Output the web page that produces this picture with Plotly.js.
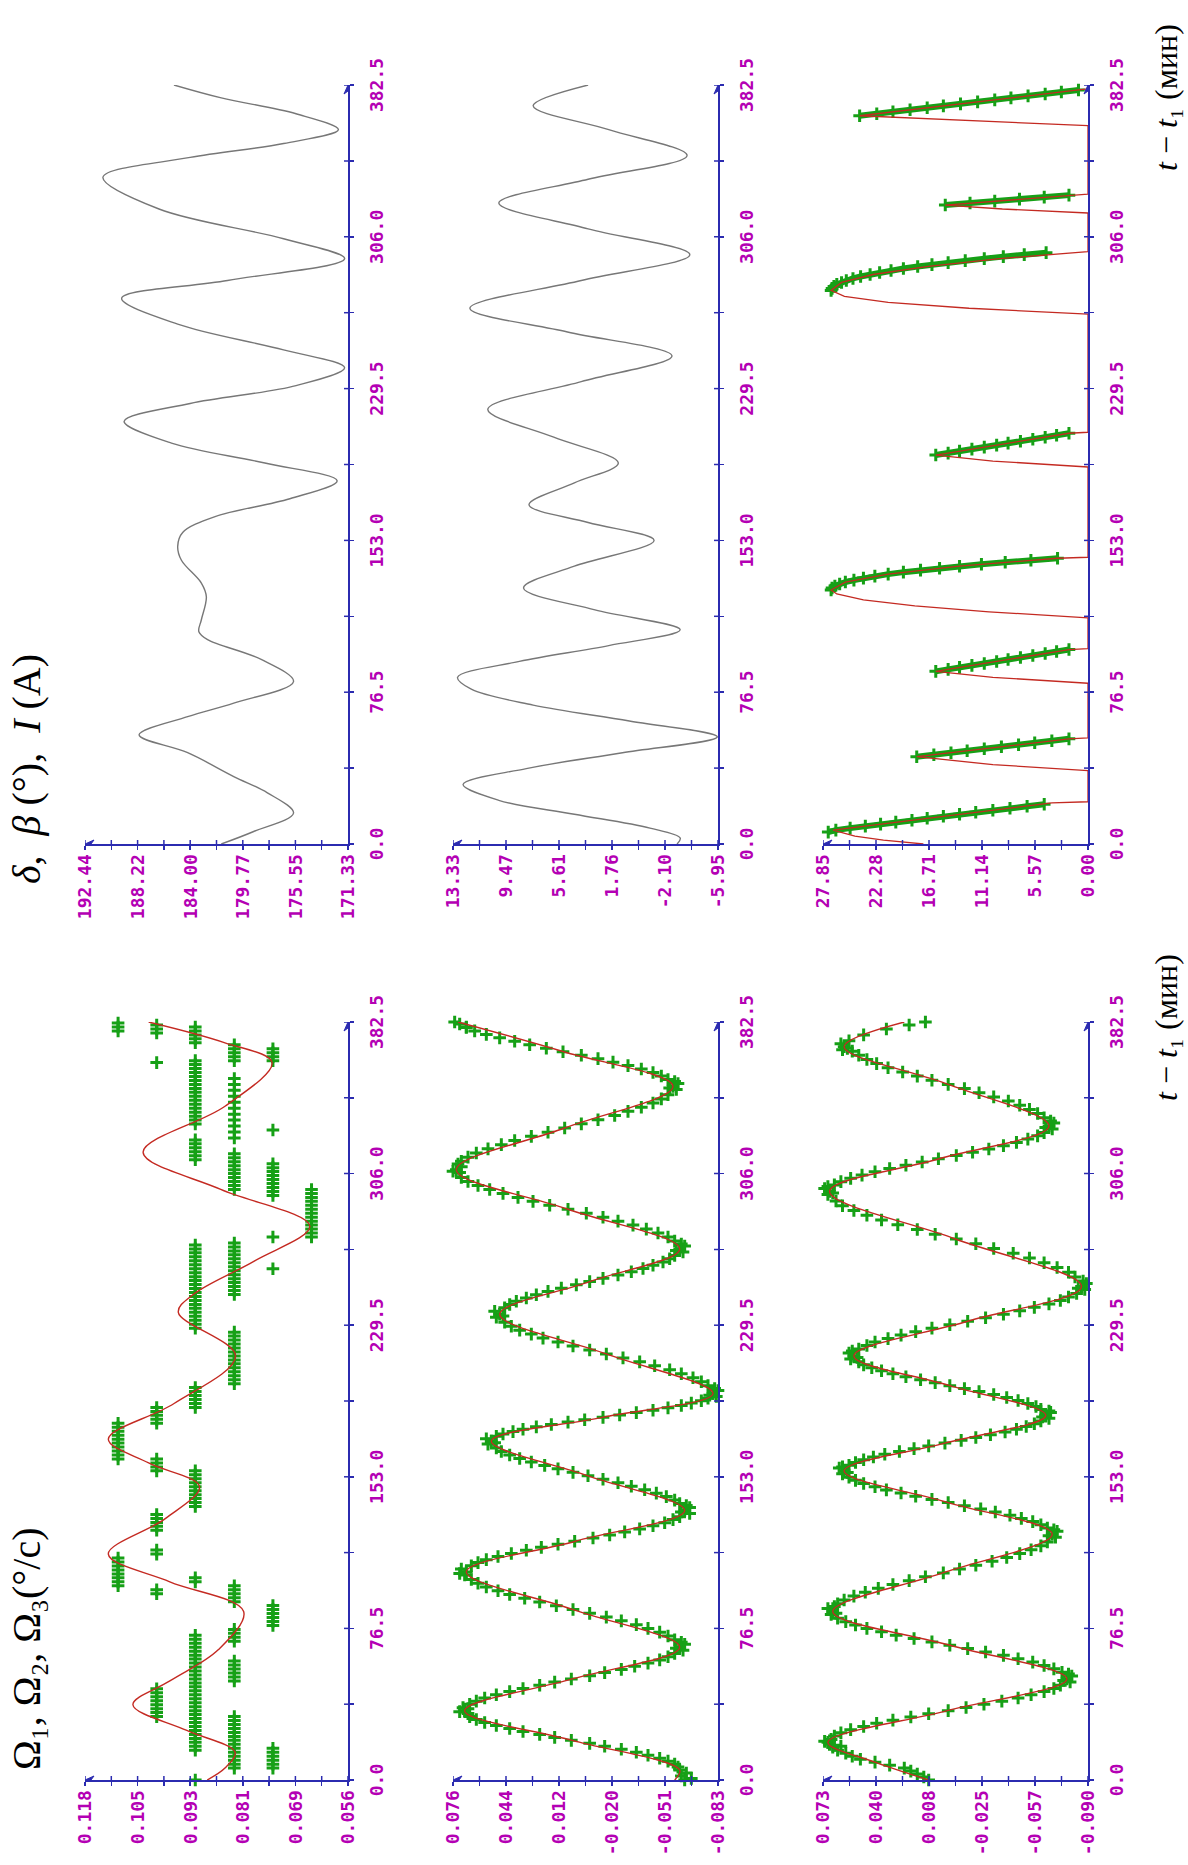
<!DOCTYPE html>
<html><head><meta charset="utf-8">
<script src="https://cdn.plot.ly/plotly-3.0.1.min.js"></script>
<style>
html,body{margin:0;padding:0;width:1188px;height:1865px;overflow:hidden;background:#fff;}
#wrap{position:absolute;left:0;top:1865px;width:1865px;height:1188px;transform-origin:0 0;transform:rotate(-90deg);}
#chart{width:1865px;height:1188px;}
</style></head><body><div id="wrap"><div id="chart"></div></div>
<script>
// ---------------- DATA ----------------
const timeTickLabels = ["0.0","76.5","153.0","229.5","306.0","382.5"];
const omega1TickLabels = ["0.118","0.105","0.093","0.081","0.069","0.056"];
const omega2TickLabels = ["0.076","0.044","0.012","-0.020","-0.051","-0.083"];
const omega3TickLabels = ["0.073","0.040","0.008","-0.025","-0.057","-0.090"];
const deltaTickLabels = ["192.44","188.22","184.00","179.77","175.55","171.33"];
const betaTickLabels = ["13.33","9.47","5.61","1.76","-2.10","-5.95"];
const currentTickLabels = ["27.85","22.28","16.71","11.14","5.57","0.00"];

// Omega1 fitted curve (red)
const omega1FitT = [0, 6, 14, 25, 38, 50, 65.7, 85, 100, 114, 132, 148, 160, 172, 190, 214, 236, 245, 262, 279.5, 298, 316.8, 340, 362, 372, 382.5];
const omega1FitV = [0.0892, 0.0850, 0.0826, 0.094, 0.1067, 0.098, 0.0866, 0.0806, 0.098, 0.1125, 0.099, 0.091, 0.103, 0.1125, 0.097, 0.0825, 0.096, 0.0925, 0.078, 0.065, 0.086, 0.1043, 0.085, 0.0739, 0.085, 0.103];
// Omega1 measured (green): quantised levels and the times at which each level was measured
const omega1Levels = [0.0555, 0.0646, 0.0737, 0.0828, 0.0920, 0.1011, 0.1102];
const omega1LevelTimes = [
  [278, 280, 282, 284, 286, 288, 290],
  [274, 276, 278, 280, 282, 284, 286, 288, 290, 292, 294, 296, 298],
  [6, 8, 10, 12, 14, 16, 78, 80, 82, 84, 86, 88, 258, 274, 295, 297, 299, 301, 303, 305, 307, 309, 311, 328, 363, 365, 367, 369],
  [6, 8, 10, 12, 14, 16, 18, 20, 22, 24, 26, 28, 30, 32, 50, 52, 54, 56, 58, 60, 70, 72, 74, 76, 90, 92, 94, 96, 98, 200, 202, 204, 206, 208, 210, 212, 214, 216, 218, 220, 222, 224, 226, 245, 247, 249, 251, 253, 255, 257, 259, 261, 263, 265, 267, 269, 271, 298, 300, 302, 304, 306, 308, 310, 312, 314, 316, 324, 327, 330, 333, 336, 339, 342, 345, 348, 351, 354, 363, 365, 367, 369, 371],
  [0, 15, 17, 19, 21, 23, 25, 27, 29, 31, 33, 35, 37, 39, 41, 43, 45, 47, 49, 51, 53, 55, 57, 59, 61, 63, 65, 67, 69, 71, 73, 100, 102, 138, 140, 142, 144, 146, 148, 150, 152, 154, 156, 188, 190, 192, 194, 196, 198, 228, 230, 232, 234, 236, 238, 240, 242, 244, 246, 248, 250, 252, 254, 256, 258, 260, 262, 264, 266, 268, 270, 313, 315, 317, 319, 321, 323, 331, 333, 335, 337, 339, 341, 343, 345, 347, 349, 351, 353, 355, 357, 359, 361, 363, 372, 374, 376, 378, 380],
  [32, 34, 36, 38, 40, 42, 44, 46, 94, 96, 114, 116, 126, 128, 130, 132, 134, 156, 158, 160, 162, 180, 182, 184, 186, 188, 362, 377, 379, 381, 383],
  [98, 100, 102, 104, 106, 108, 110, 112, 162, 164, 166, 168, 170, 172, 174, 176, 178, 180, 378, 380, 382, 384]
];

// Omega2
const omega2FitT = [0, 5, 20, 35, 51, 67, 86, 105, 120.5, 136, 153.5, 171, 183, 195, 215, 235, 251.5, 268, 288, 308, 329, 350, 367.5, 382.5];
const omega2FitV = [-0.057, -0.060, 0.0045, 0.069, 0.0045, -0.060, 0.004, 0.068, 0.0025, -0.063, -0.005, 0.053, -0.0135, -0.080, -0.016, 0.048, -0.006, -0.060, 0.007, 0.074, 0.009, -0.056, 0.0095, 0.073];
const omega2ObsT = [0, 0.8, 2, 3.5, 5, 8, 11, 14, 17, 20, 23, 26, 29, 32, 35, 36.5, 38.2, 41.4, 44.6, 47.8, 51, 54.2, 57.4, 60.6, 63.8, 67, 68.5, 70.8, 74.6, 78.4, 82.2, 86, 89.8, 93.6, 97.4, 101.2, 105, 106.5, 108.1, 111.2, 114.3, 117.4, 120.5, 123.6, 126.7, 129.8, 132.9, 136, 137.5, 139.5, 143, 146.5, 150, 153.5, 157, 160.5, 164, 167.5, 171, 172.2, 173.4, 175.8, 178.2, 180.6, 183, 185.4, 187.8, 190.2, 192.6, 195, 196.5, 199, 203, 207, 211, 215, 219, 223, 227, 231, 235, 236.5, 238.3, 241.6, 244.9, 248.2, 251.5, 254.8, 258.1, 261.4, 264.7, 268, 269.5, 272, 276, 280, 284, 288, 292, 296, 300, 304, 308, 309.5, 312.2, 316.4, 320.6, 324.8, 329, 333.2, 337.4, 341.6, 345.8, 350, 351.5, 353.5, 357, 360.5, 364, 367.5, 371, 374.5, 378, 381.5,
  33.5, 34.5, 36, 65.5, 66.5, 69.5, 103.5, 104.2, 134.5, 135.2, 138.5, 169.5, 170.2, 193.5, 194.2, 197.5, 233.5, 234.2, 266.5, 267.2, 270.5, 306.5, 307.2, 310.8, 348.5, 349.2, 352.5, 380, 382.5,
  6.5, 9.5, 12.5, 15.5, 18.5, 21.5, 24.5, 27.5, 30.5, 39.8, 43, 46.2, 49.4, 52.6, 55.8, 59, 62.2, 72.7, 76.5, 80.3, 84.1, 87.9, 91.7, 95.5, 99.3, 109.7, 112.8, 115.9, 119, 122.1, 125.2, 128.3, 131.4, 141.25, 144.75, 148.25, 151.75, 155.25, 158.75, 162.25, 165.75, 174.6, 177, 179.4, 181.8, 184.2, 186.6, 189, 191.4, 201, 205, 209, 213, 217, 221, 225, 229, 239.95, 243.25, 246.55, 249.85, 253.15, 256.45, 259.75, 263.05, 274, 278, 282, 286, 290, 294, 298, 302, 314.3, 318.5, 322.7, 326.9, 331.1, 335.3, 339.5, 343.7, 355.25, 358.75, 362.25, 365.75, 369.25, 372.75, 376.25, 379.75];
const omega2ObsV = [-0.063, -0.067, -0.061, -0.064, -0.060, -0.057, -0.048, -0.034, -0.015, 0.005, 0.024, 0.042, 0.057, 0.066, 0.069, 0.070, 0.066, 0.057, 0.042, 0.024, 0.005, -0.015, -0.033, -0.048, -0.057, -0.060, -0.063, -0.057, -0.048, -0.034, -0.016, 0.004, 0.024, 0.042, 0.056, 0.065, 0.068, 0.071, 0.065, 0.056, 0.041, 0.023, 0.003, -0.018, -0.036, -0.051, -0.060, -0.063, -0.066, -0.060, -0.052, -0.039, -0.023, -0.005, 0.013, 0.029, 0.042, 0.050, 0.053, 0.056, 0.050, 0.040, 0.026, 0.007, -0.014, -0.034, -0.053, -0.067, -0.077, -0.080, -0.083, -0.077, -0.068, -0.054, -0.036, -0.016, 0.004, 0.022, 0.036, 0.045, 0.048, 0.051, 0.045, 0.038, 0.026, 0.011, -0.006, -0.023, -0.038, -0.050, -0.057, -0.060, -0.063, -0.057, -0.047, -0.032, -0.014, 0.007, 0.028, 0.046, 0.061, 0.071, 0.074, 0.071, 0.071, 0.062, 0.047, 0.029, 0.009, -0.011, -0.029, -0.044, -0.053, -0.056, -0.059, -0.053, -0.044, -0.029, -0.011, 0.010, 0.030, 0.048, 0.063, 0.072,
  0.067, 0.072, 0.067, -0.062, -0.058, -0.061, 0.069, 0.072, -0.066, -0.061, -0.064, 0.055, 0.051, -0.082, -0.078, -0.081, 0.050, 0.046, -0.062, -0.058, -0.061, 0.072, 0.076, 0.073, -0.058, -0.054, -0.057, 0.068, 0.075,
  -0.059, -0.053, -0.041, -0.025, -0.006, 0.015, 0.034, 0.050, 0.062, 0.062, 0.050, 0.034, 0.015, -0.006, -0.025, -0.041, -0.053, -0.053, -0.041, -0.025, -0.006, 0.014, 0.033, 0.049, 0.061, 0.061, 0.049, 0.032, 0.013, -0.008, -0.027, -0.044, -0.056, -0.057, -0.046, -0.031, -0.014, 0.004, 0.021, 0.036, 0.047, 0.046, 0.034, 0.017, -0.003, -0.024, -0.044, -0.061, -0.073, -0.073, -0.061, -0.045, -0.026, -0.006, 0.013, 0.029, 0.041, 0.042, 0.032, 0.019, 0.002, -0.014, -0.031, -0.044, -0.054, -0.053, -0.040, -0.023, -0.004, 0.018, 0.037, 0.054, 0.067, 0.067, 0.055, 0.039, 0.019, -0.001, -0.021, -0.037, -0.049, -0.049, -0.037, -0.020, -0.001, 0.020, 0.039, 0.056, 0.068];

// Omega3
const omega3FitT = [0, 9, 19, 35, 51, 68, 85, 104.5, 124, 140, 156, 170, 184, 199, 214, 231.5, 249, 273, 297, 313.5, 330, 351, 370, 382.5];
const omega3FitV = [0.008, 0.041, 0.070, -0.0035, -0.077, -0.005, 0.067, -0.0005, -0.068, -0.004, 0.060, -0.002, -0.064, -0.005, 0.054, -0.016, -0.086, -0.0085, 0.069, 0.0015, -0.066, -0.004, 0.060, 0.023];
const omega3ObsT = [0, 1.5, 3, 4.5, 6, 7.5, 9, 10.5, 12, 13.5, 15, 16.5, 17, 18, 19, 19.5, 22.2, 25.4, 28.6, 31.8, 35, 38.2, 41.4, 44.6, 47.8, 51, 52.5, 54.4, 57.8, 61.2, 64.6, 68, 71.4, 74.8, 78.2, 81.6, 85, 86.5, 88.9, 92.8, 96.7, 100.6, 104.5, 108.4, 112.3, 116.2, 120.1, 124, 125.5, 127.2, 130.4, 133.6, 136.8, 140, 143.2, 146.4, 149.6, 152.8, 156, 157.4, 158.8, 161.6, 164.4, 167.2, 170, 172.8, 175.6, 178.4, 181.2, 184, 185.5, 187, 190, 193, 196, 199, 202, 205, 208, 211, 214, 215.5, 217.5, 221, 224.5, 228, 231.5, 235, 238.5, 242, 245.5, 249, 250.5, 253.8, 258.6, 263.4, 268.2, 273, 277.8, 282.6, 287.4, 292.2, 297, 298.5, 300.3, 303.6, 306.9, 310.2, 313.5, 316.8, 320.1, 323.4, 326.7, 330, 331.5, 334.2, 338.4, 342.6, 346.8, 351, 355.2, 359.4, 363.6, 367.8, 370, 371.5, 373, 376, 379, 381, 382.5,
  20.5, 17.5, 49.5, 50.2, 53.5, 83.5, 84.2, 87.5, 122.5, 123.2, 126.3, 154.5, 155.2, 158, 182.5, 183.2, 186.2, 212.5, 213.2, 216.5, 247.5, 248.2, 251.8, 295.5, 296.2, 299.5, 328.5, 329.2, 332.5, 368.5, 369.2,
  23.8, 27, 30.2, 33.4, 36.6, 39.8, 43, 46.2, 56.1, 59.5, 62.9, 66.3, 69.7, 73.1, 76.5, 79.9, 90.85, 94.75, 98.65, 102.55, 106.45, 110.35, 114.25, 118.15, 128.8, 132, 135.2, 138.4, 141.6, 144.8, 148, 151.2, 160.2, 163, 165.8, 168.6, 171.4, 174.2, 177, 179.8, 188.5, 191.5, 194.5, 197.5, 200.5, 203.5, 206.5, 209.5, 219.25, 222.75, 226.25, 229.75, 233.25, 236.75, 240.25, 243.75, 256.2, 261, 265.8, 270.6, 275.4, 280.2, 285, 289.8, 301.95, 305.25, 308.55, 311.85, 315.15, 318.45, 321.75, 325.05, 336.3, 340.5, 344.7, 348.9, 353.1, 357.3, 361.5, 365.7];
const omega3ObsV = [0.008, 0.011, 0.015, 0.019, 0.023, 0.032, 0.041, 0.050, 0.055, 0.059, 0.064, 0.067, 0.062, 0.069, 0.070, 0.072, 0.066, 0.056, 0.040, 0.019, -0.004, -0.026, -0.047, -0.063, -0.073, -0.077, -0.080, -0.074, -0.063, -0.047, -0.027, -0.005, 0.017, 0.037, 0.053, 0.064, 0.067, 0.070, 0.064, 0.054, 0.039, 0.020, -0.001, -0.021, -0.040, -0.055, -0.065, -0.068, -0.071, -0.065, -0.056, -0.042, -0.024, -0.004, 0.016, 0.034, 0.048, 0.057, 0.060, 0.063, 0.057, 0.048, 0.035, 0.017, -0.002, -0.021, -0.039, -0.052, -0.061, -0.064, -0.067, -0.061, -0.053, -0.040, -0.023, -0.005, 0.013, 0.030, 0.043, 0.051, 0.054, 0.057, 0.051, 0.041, 0.025, 0.006, -0.016, -0.038, -0.057, -0.073, -0.083, -0.086, -0.089, -0.082, -0.071, -0.054, -0.032, -0.009, 0.015, 0.037, 0.054, 0.065, 0.069, 0.072, 0.066, 0.056, 0.041, 0.022, 0.002, -0.019, -0.038, -0.053, -0.063, -0.066, -0.069, -0.063, -0.054, -0.041, -0.023, -0.004, 0.015, 0.033, 0.046, 0.055, 0.060, 0.062, 0.057, 0.048, 0.034, 0.020, 0.010,
  0.068, 0.066, -0.079, -0.075, -0.078, 0.068, 0.065, 0.066, -0.070, -0.066, -0.069, 0.061, 0.058, 0.061, -0.066, -0.062, -0.066, 0.056, 0.052, 0.055, -0.088, -0.084, -0.087, 0.070, 0.067, 0.070, -0.068, -0.064, -0.067, 0.061, 0.058,
  0.062, 0.048, 0.030, 0.008, -0.015, -0.037, -0.055, -0.069, -0.069, -0.056, -0.038, -0.016, 0.006, 0.028, 0.046, 0.059, 0.060, 0.047, 0.030, 0.010, -0.011, -0.031, -0.048, -0.061, -0.061, -0.049, -0.033, -0.014, 0.006, 0.025, 0.041, 0.053, 0.053, 0.042, 0.026, 0.008, -0.012, -0.030, -0.046, -0.057, -0.058, -0.047, -0.032, -0.014, 0.004, 0.022, 0.037, 0.048, 0.046, 0.033, 0.016, -0.005, -0.027, -0.048, -0.066, -0.078, -0.078, -0.063, -0.044, -0.021, 0.004, 0.027, 0.046, 0.061, 0.062, 0.049, 0.032, 0.012, -0.009, -0.029, -0.046, -0.059, -0.059, -0.048, -0.032, -0.014, 0.006, 0.024, 0.040, 0.051];

// delta (grey)
const deltaT = [0, 6.3, 15.6, 25.8, 34, 46, 55, 64.2, 71, 81.9, 93, 103, 107, 113, 124.6, 131.5, 143, 150, 157, 165, 174, 183, 192, 202, 213, 222, 231, 240, 249, 262, 275, 284, 295, 305, 320, 336, 346, 353, 360, 368, 376, 382.5];
const deltaV = [181.5, 178.9, 175.7, 177.8, 180.5, 184.2, 188.1, 184.2, 180.5, 175.7, 178.3, 182.6, 183.3, 183.1, 182.7, 183.1, 184.7, 185.0, 184.6, 182.0, 176.0, 172.2, 178.0, 185.5, 189.3, 184.0, 175.5, 171.6, 176.5, 185.0, 189.5, 181.0, 171.6, 176.5, 186.5, 191.0, 184.0, 176.5, 172.1, 175.5, 181.5, 185.3];
// beta (grey)
const betaT = [0, 3, 8, 15, 22, 30, 38, 46, 54, 62, 70, 78, 84, 92, 100, 108, 118, 129, 140, 153, 162, 171, 182, 192, 205, 219, 233, 246, 258, 270, 284, 297, 310, 323, 335, 347, 360, 372, 382.5];
const betaV = [-2.97, -3.2, -1.0, 4.5, 10.0, 12.6, 8.0, 1.0, -5.9, 0.5, 7.5, 12.0, 13.0, 8.5, 2.0, -3.2, 3.0, 8.2, 4.5, -1.3, 3.5, 7.8, 4.5, 1.3, 6.0, 10.8, 4.0, -2.6, 5.0, 12.1, 4.0, -3.9, 3.5, 10.0, 3.5, -3.7, 2.0, 7.5, 3.5];
// current I (red fit, green measured)
const currentFitT = [0, 2, 4, 7, 20.7, 21.3, 37, 40, 44, 53, 53.5, 81, 84, 87, 98, 98.5, 114, 117, 120, 123, 126, 128, 132, 136, 140, 144, 144.5, 190, 193, 196, 207, 207.5, 267, 270, 273, 276, 279, 283, 287, 291, 295, 298, 298.5, 318, 320, 322, 327, 327.5, 362, 365, 367, 380, 380.5, 382.5];
const currentFitV = [17.3, 21.5, 24.5, 26.8, 3.8, 0, 0, 10, 18, 2, 0, 0, 10, 16, 2, 0, 0, 10.4, 18.2, 23.6, 26.4, 27, 25.5, 21, 13.5, 3.2, 0, 0, 10, 16, 2, 0, 0, 12.5, 21, 25.6, 27, 25.9, 22.6, 17, 9.3, 2, 0, 0, 9, 15, 2, 0, 0, 14, 24, 1, 0, 0];
const currentObsT = [6, 7, 8, 9, 10, 11, 12, 13, 14, 15, 16, 17, 18, 19, 20, null,
  44, 45, 46, 47, 48, 49, 50, 51, 52, 53, null,
  87, 88, 89, 90, 91, 92, 93, 94, 95, 96, 97, 98, null,
  128, 129, 130, 131, 132, 133, 134, 135, 136, 137, 138, 139, 140, 141, 142, 143, 144, null,
  196, 197, 198, 199, 200, 201, 202, 203, 204, 205, 206, 207, null,
  279, 280, 281, 282, 283, 284, 285, 286, 287, 288, 289, 290, 291, 292, 293, 294, 295, 296, 297, 298, null,
  322, 323, 324, 325, 326, 327, null,
  367, 368, 369, 370, 371, 372, 373, 374, 375, 376, 377, 378, 379, 380];
const currentObsV = [27.3, 26.5, 25, 23.4, 21.8, 20.2, 18.5, 16.9, 15.2, 13.5, 11.8, 10, 8.2, 6.4, 4.6, null,
  18, 16.2, 14.4, 12.7, 10.9, 9.1, 7.3, 5.6, 3.8, 2.0, null,
  16, 14.7, 13.5, 12.2, 10.9, 9.6, 8.4, 7.1, 5.8, 4.5, 3.3, 2.0, null,
  27, 26.9, 26.6, 26.1, 25.5, 24.6, 23.6, 22.4, 21, 19.4, 17.6, 15.6, 13.5, 11.2, 8.7, 6.0, 3.2, null,
  16, 14.7, 13.5, 12.2, 10.9, 9.6, 8.4, 7.1, 5.8, 4.5, 3.3, 2.0, null,
  27, 26.9, 26.7, 26.4, 25.9, 25.4, 24.7, 23.9, 22.9, 21.9, 20.7, 19.4, 17.9, 16.4, 14.7, 12.9, 10.9, 8.9, 6.7, 4.4, null,
  15, 12.4, 9.8, 7.2, 4.6, 2.0, null,
  24, 22.2, 20.5, 18.7, 16.9, 15.2, 13.4, 11.6, 9.8, 8.1, 6.3, 4.5, 2.8, 1.0];

// ---------------- STYLE / LAYOUT ----------------
const W = 1865, H = 1188;
const AX = '#2b2bb0', LBL = '#b400b4', RED = '#c42a22', GREEN = '#16a016', GREY = '#777777';
const tickFont = {family: 'DejaVu Sans Mono, monospace', size: 18, color: LBL, weight: 700};
const colDom = [[85/W, 843/W], [1021/W, 1780/W]];
const rowPx = [[85, 348], [453, 718], [823, 1088]];
const rowDom = rowPx.map(r => [1 - r[1]/H, 1 - r[0]/H]);

const panels = [
  {col: 0, row: 0, labels: omega1TickLabels},
  {col: 0, row: 1, labels: omega2TickLabels},
  {col: 0, row: 2, labels: omega3TickLabels},
  {col: 1, row: 0, labels: deltaTickLabels},
  {col: 1, row: 1, labels: betaTickLabels},
  {col: 1, row: 2, labels: currentTickLabels}
];

const tMin = parseFloat(timeTickLabels[0]), tMax = parseFloat(timeTickLabels[timeTickLabels.length - 1]);
const tMajor = timeTickLabels.map(parseFloat);
const tMinor = tMajor.slice(1).map((v, i) => (v + tMajor[i]) / 2);

const layout = {
  width: W, height: H, autosize: false,
  margin: {l: 0, r: 0, t: 0, b: 0},
  paper_bgcolor: '#fff', plot_bgcolor: '#fff',
  showlegend: false, shapes: [], annotations: []
};

panels.forEach((p, k) => {
  const n = k + 1, sfx = n === 1 ? '' : String(n);
  const xid = 'x' + sfx, yid = 'y' + sfx;
  const vMax = parseFloat(p.labels[0]), vMin = parseFloat(p.labels[p.labels.length - 1]);
  const vMajor = p.labels.map((_, i) => vMax + (vMin - vMax) * i / (p.labels.length - 1));
  const vMinor = vMajor.slice(1).map((v, i) => (v + vMajor[i]) / 2);
  layout['xaxis' + sfx] = {
    domain: colDom[p.col], range: [tMin, tMax], anchor: yid,
    showline: true, linecolor: AX, linewidth: 1.5, showgrid: false, zeroline: false,
    ticks: 'outside', ticklen: 4, tickwidth: 1.5, tickcolor: AX,
    tickmode: 'array', tickvals: tMajor, ticktext: timeTickLabels,
    minor: {tickvals: tMinor, ticks: 'outside', ticklen: 4, tickwidth: 1.5, tickcolor: AX, showgrid: false},
    tickfont: tickFont, ticklabelstandoff: 8, fixedrange: true
  };
  layout['yaxis' + sfx] = {
    domain: rowDom[p.row], range: [vMin, vMax], anchor: xid,
    showline: true, linecolor: AX, linewidth: 1.5, showgrid: false, zeroline: false,
    ticks: 'outside', ticklen: 4, tickwidth: 1.5, tickcolor: AX,
    tickmode: 'array', tickvals: vMajor, ticktext: p.labels,
    minor: {tickvals: vMinor, ticks: 'outside', ticklen: 4, tickwidth: 1.5, tickcolor: AX, showgrid: false},
    tickfont: tickFont, ticklabelstandoff: 1, fixedrange: true
  };
  // inner halves of the crossing tick marks
  const hFrac = 4 / (rowPx[p.row][1] - rowPx[p.row][0]);
  const wFrac = 4 / ((colDom[p.col][1] - colDom[p.col][0]) * W);
  tMajor.concat(tMinor).filter(t => t > tMin).forEach(t => layout.shapes.push({
    type: 'line', xref: xid, yref: yid + ' domain', x0: t, x1: t, y0: 0, y1: hFrac,
    line: {color: AX, width: 1.5}
  }));
  vMajor.concat(vMinor).filter(v => v !== vMin).forEach(v => layout.shapes.push({
    type: 'line', xref: xid + ' domain', yref: yid, x0: 0, x1: wFrac, y0: v, y1: v,
    line: {color: AX, width: 1.5}
  }));
  // arrow heads at the ends of both axes
  layout.shapes.push({type: 'path', xref: xid, yref: yid, xsizemode: 'pixel', ysizemode: 'pixel',
    xanchor: tMax, yanchor: vMin, path: 'M-9,-4L0,0L-9,4L-6,0Z', fillcolor: AX, line: {color: AX, width: 1}});
  layout.shapes.push({type: 'path', xref: xid, yref: yid, xsizemode: 'pixel', ysizemode: 'pixel',
    xanchor: tMin, yanchor: vMax, path: 'M-4,-9L0,0L4,-9L0,-6Z', fillcolor: AX, line: {color: AX, width: 1}});
});

// titles (unicode subscripts)
const serif = 'Liberation Serif, DejaVu Serif, serif';
layout.annotations.push({xref: 'paper', yref: 'paper', x: 93/W, y: 1 - 27/H, xanchor: 'left', yanchor: 'middle',
  text: 'Ω₁, Ω₂, Ω₃(°/с)', showarrow: false, font: {family: serif, size: 40, color: '#000'}});
layout.annotations.push({xref: 'paper', yref: 'paper', x: 979/W, y: 1 - 27/H, xanchor: 'left', yanchor: 'middle',
  text: '<i>δ</i>,  <i>β</i> (°),  <i>I</i> (A)', showarrow: false, font: {family: serif, size: 40, color: '#000'}});
[762, 1692].forEach(x => layout.annotations.push({xref: 'paper', yref: 'paper', x: x/W, y: 1 - 1166/H,
  xanchor: 'left', yanchor: 'middle', text: '<i>t</i> − <i>t</i>₁ (мин)', showarrow: false,
  font: {family: serif, size: 32, color: '#000'}}));

// ---------------- TRACES ----------------
const ax = n => ({xaxis: n === 1 ? 'x' : 'x' + n, yaxis: n === 1 ? 'y' : 'y' + n});
const greenMarker = {symbol: 'cross-thin', size: 9, color: GREEN, line: {color: GREEN, width: 3}};

const omega1ObsT = [], omega1ObsV = [];
omega1LevelTimes.forEach((ts, i) => ts.forEach(t => { omega1ObsT.push(t); omega1ObsV.push(omega1Levels[i]); }));

const traces = [
  Object.assign({x: omega1ObsT, y: omega1ObsV, mode: 'markers', marker: greenMarker, cliponaxis: false}, ax(1)),
  Object.assign({x: omega1FitT, y: omega1FitV, mode: 'lines', line: {color: RED, width: 1.4, shape: 'spline', smoothing: 1}}, ax(1)),
  Object.assign({x: omega2ObsT, y: omega2ObsV, mode: 'markers', marker: greenMarker, cliponaxis: false}, ax(2)),
  Object.assign({x: omega2FitT, y: omega2FitV, mode: 'lines', line: {color: RED, width: 1.4, shape: 'spline', smoothing: 1}}, ax(2)),
  Object.assign({x: omega3ObsT, y: omega3ObsV, mode: 'markers', marker: greenMarker, cliponaxis: false}, ax(3)),
  Object.assign({x: omega3FitT, y: omega3FitV, mode: 'lines', line: {color: RED, width: 1.4, shape: 'spline', smoothing: 1}}, ax(3)),
  Object.assign({x: deltaT, y: deltaV, mode: 'lines', line: {color: GREY, width: 1.4, shape: 'spline', smoothing: 1}, cliponaxis: false}, ax(4)),
  Object.assign({x: betaT, y: betaV, mode: 'lines', line: {color: GREY, width: 1.4, shape: 'spline', smoothing: 1}, cliponaxis: false}, ax(5)),
  Object.assign({x: currentObsT, y: currentObsV, mode: 'lines+markers', connectgaps: false,
    line: {color: GREEN, width: 6}, marker: greenMarker, cliponaxis: false}, ax(6)),
  Object.assign({x: currentFitT, y: currentFitV, mode: 'lines', line: {color: RED, width: 1.3}, cliponaxis: false}, ax(6))
];

Plotly.newPlot('chart', traces, layout, {staticPlot: true, displayModeBar: false});
</script></body></html>
